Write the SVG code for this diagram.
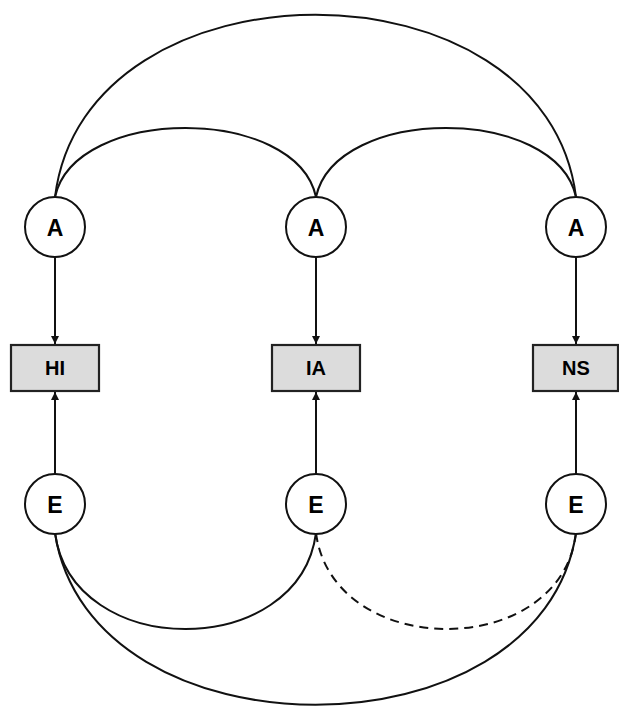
<svg xmlns="http://www.w3.org/2000/svg" width="619" height="710" viewBox="0 0 619 710">
<style>
.c{fill:#fff;stroke:#111;stroke-width:2}
.b{fill:#dcdcdc;stroke:#222;stroke-width:2.2}
.t{font-family:"Liberation Sans",Arial,sans-serif;font-weight:bold;font-size:23px;fill:#000;text-anchor:middle;dominant-baseline:central}
.bt{font-family:"Liberation Sans",Arial,sans-serif;font-weight:bold;font-size:20px;fill:#000;text-anchor:middle;dominant-baseline:central}
.e{fill:none;stroke:#111;stroke-width:2}
.d{stroke-dasharray:9,6}
</style>
<defs>
<marker id="ah" viewBox="0 0 10 10" refX="10" refY="5" markerWidth="4" markerHeight="4.5" orient="auto" markerUnits="strokeWidth">
<path d="M0,0 L10,5 L0,10 z" fill="#111"/>
</marker>
</defs>
<rect width="619" height="710" fill="#fff"/>
<g id="connectors">
<path class="e" d="M55,197 C 85,-46 546,-46 576,197"/>
<path class="e" d="M55,197 C 75,105 296,105 316,197"/>
<path class="e" d="M316,197 C 336,105 556,105 576,197"/>
<path class="e" d="M55,533 C 72,661 299,661 316,533"/>
<path class="e d" d="M316,533 C 333,661 561,661 576,533"/>
<path class="e" d="M55,533 C 90,762 541,762 576,533"/>
<line class="e" x1="55" y1="257" x2="55" y2="344" marker-end="url(#ah)"/>
<line class="e" x1="316" y1="257" x2="316" y2="344" marker-end="url(#ah)"/>
<line class="e" x1="576" y1="257" x2="576" y2="344" marker-end="url(#ah)"/>
<line class="e" x1="55" y1="474" x2="55" y2="392" marker-end="url(#ah)"/>
<line class="e" x1="316" y1="474" x2="316" y2="392" marker-end="url(#ah)"/>
<line class="e" x1="576" y1="474" x2="576" y2="392" marker-end="url(#ah)"/>
</g>
<g id="A1"><circle class="c" cx="55" cy="227" r="30"/><text class="t" x="55" y="228">A</text></g>
<g id="A2"><circle class="c" cx="316" cy="227" r="30"/><text class="t" x="316" y="228">A</text></g>
<g id="A3"><circle class="c" cx="576" cy="227" r="30"/><text class="t" x="576" y="228">A</text></g>
<g id="HI"><rect class="b" x="11" y="345" width="88" height="46"/><text class="bt" x="55" y="368">HI</text></g>
<g id="IA"><rect class="b" x="272" y="345" width="88" height="46"/><text class="bt" x="316" y="368">IA</text></g>
<g id="NS"><rect class="b" x="533" y="345" width="85" height="46"/><text class="bt" x="576" y="368">NS</text></g>
<g id="E1"><circle class="c" cx="55" cy="504" r="30"/><text class="t" x="55" y="505">E</text></g>
<g id="E2"><circle class="c" cx="316" cy="504" r="30"/><text class="t" x="316" y="505">E</text></g>
<g id="E3"><circle class="c" cx="576" cy="504" r="30"/><text class="t" x="576" y="505">E</text></g>
</svg>
